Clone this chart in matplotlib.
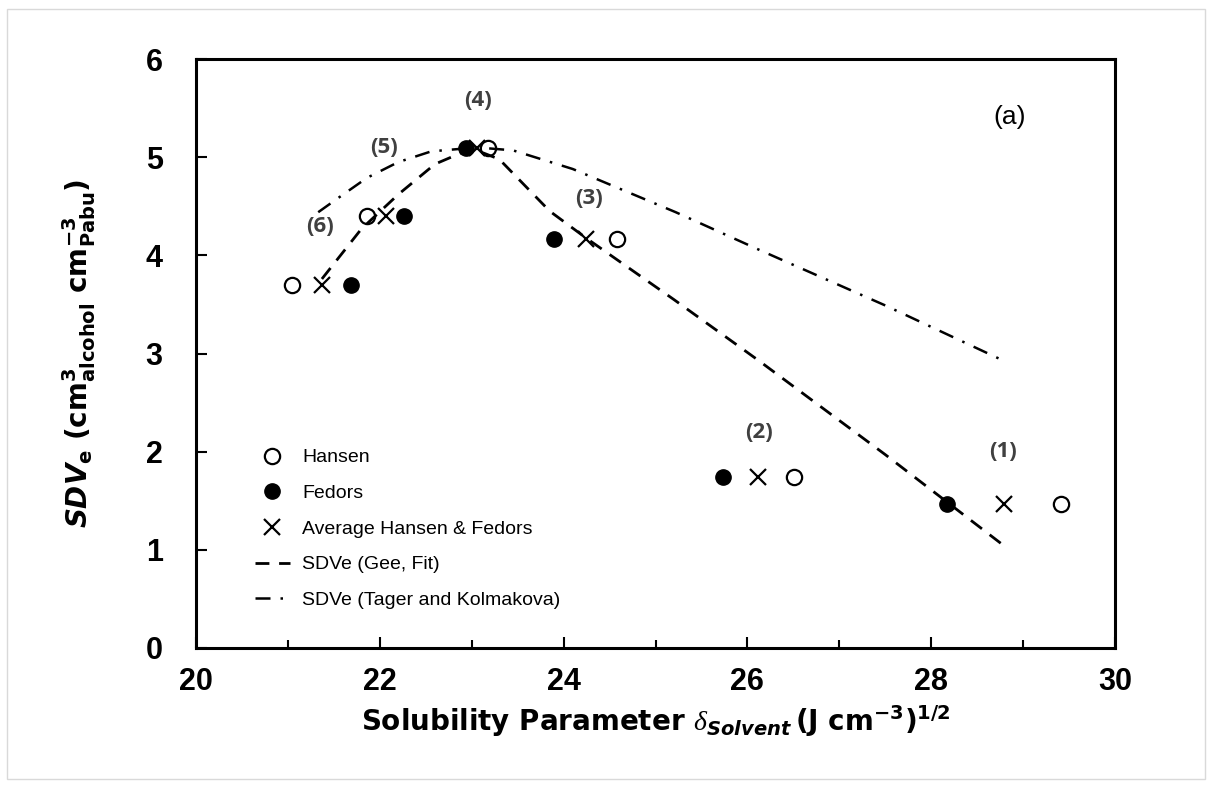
import numpy as np
import matplotlib
matplotlib.use('Agg')
import matplotlib.pyplot as plt
from matplotlib.patches import Rectangle

plt.rcParams['font.family'] = ['Liberation Sans', 'DejaVu Sans']
plt.rcParams['mathtext.fontset'] = 'custom'
plt.rcParams['mathtext.rm'] = 'DejaVu Sans:bold'
plt.rcParams['mathtext.it'] = 'DejaVu Sans:bold:italic'
plt.rcParams['mathtext.bf'] = 'DejaVu Sans:bold'
plt.rcParams['mathtext.cal'] = 'Liberation Serif:italic'

# solvents (1)..(6)
labels = ['(1)', '(2)', '(3)', '(4)', '(5)', '(6)']
hansen_x = [29.41, 26.51, 24.58, 23.18, 21.86, 21.04]
fedors_x = [28.17, 25.73, 23.90, 22.94, 22.26, 21.69]
average_x = [28.79, 26.12, 24.24, 23.06, 22.07, 21.37]
sdve = [1.47, 1.74, 4.17, 5.09, 4.40, 3.70]

# label positions
label_x = [28.78, 26.13, 24.28, 23.07, 22.05, 21.35]
label_y = [2.00, 2.20, 4.58, 5.58, 5.10, 4.29]

# SDVe (Gee, Fit)
gee_x = [21.37, 21.8, 22.2, 22.6, 23.0, 23.3, 23.85, 24.24, 25.2, 26.12, 27.5, 28.78]
gee_y = [3.76, 4.27, 4.62, 4.93, 5.09, 4.98, 4.45, 4.18, 3.55, 2.93, 1.97, 1.05]

# SDVe (Tager and Kolmakova)
tager_x = [21.33, 21.54, 21.86, 22.2, 22.56, 23.06, 23.45, 24.1, 25.22, 26.12, 27.5, 28.78]
tager_y = [4.44, 4.58, 4.79, 4.95, 5.06, 5.10, 5.07, 4.88, 4.44, 4.06, 3.49, 2.93]

fig = plt.figure(figsize=(12.12, 7.88), dpi=100)
ax = fig.add_axes([0.1617, 0.1777, 0.7583, 0.7473])

# light chart-area border
fig.patches.append(Rectangle((0.006, 0.012), 0.988, 0.976, transform=fig.transFigure,
                             fill=False, edgecolor='#d9d9d9', linewidth=1.0))

ax.plot(hansen_x, sdve, 'o', ms=11, mfc='white', mec='black', mew=1.6, label='Hansen')
ax.plot(fedors_x, sdve, 'o', ms=11, mfc='black', mec='black', label='Fedors')
ax.plot(average_x, sdve, 'x', ms=12, mec='black', mew=1.6, label='Average Hansen & Fedors')
ax.plot(gee_x, gee_y, color='black', lw=2.0, dashes=(5, 3.5), label='SDVe (Gee, Fit)')
ax.plot(tager_x, tager_y, color='black', lw=1.8, dashes=(6, 4, 1, 4), label='SDVe (Tager and Kolmakova)')

for t, x, y in zip(labels, label_x, label_y):
    ax.text(x, y, t, ha='center', va='center', fontsize=16, fontweight='bold',
            color='#404040', family=['Open Sans', 'DejaVu Sans'])

ax.text(28.85, 5.41, '(a)', ha='center', va='center', fontsize=19)

ax.set_xlim(20, 30)
ax.set_ylim(0, 6)
ax.set_xticks(np.arange(20, 31, 2))
ax.set_xticks(np.arange(20, 31, 1), minor=True)
ax.set_yticks(np.arange(0, 7, 1))
ax.tick_params(axis='both', which='major', direction='in', length=8, width=1.5,
               labelsize=22)
ax.tick_params(axis='x', which='major', pad=14)
ax.tick_params(axis='y', which='major', pad=24)
ax.tick_params(axis='both', which='minor', direction='in', length=6, width=1.5)
for lab in ax.get_xticklabels() + ax.get_yticklabels():
    lab.set_fontweight('bold')
for s in ax.spines.values():
    s.set_linewidth(2.2)

ax.set_xlabel(r'Solubility Parameter $\mathcal{\delta}_{\mathit{Solvent}}\,$(J cm$^{-3}$)$^{1/2}$',
              fontsize=20, fontweight='bold', family='DejaVu Sans', labelpad=4)
ax.set_ylabel(r'$\mathit{SDV}_\mathrm{e}$ (cm$^{3}_{\mathrm{alcohol}}$ cm$^{-3}_{\mathrm{Pabu}}$)',
              fontsize=20, fontweight='bold', family='DejaVu Sans', labelpad=34)

ax.legend(loc='lower left', bbox_to_anchor=(0.064, 0.066), frameon=False, fontsize=14,
          handlelength=1.8, handletextpad=0.65, labelspacing=0.93, borderpad=0,
          borderaxespad=0)

fig.savefig('out.png', dpi=100)
